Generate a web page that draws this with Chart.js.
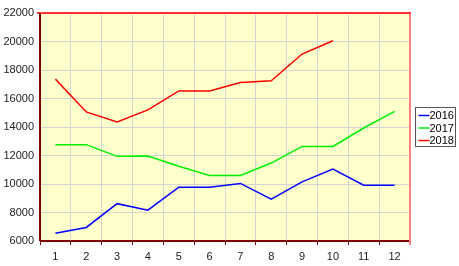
<!DOCTYPE html>
<html><head><meta charset="utf-8">
<script src="https://cdn.jsdelivr.net/npm/chart.js@4/dist/chart.umd.min.js"></script>
<style>html,body{margin:0;padding:0;background:#fff}#wrap{width:459px;height:266px;position:relative}</style>
</head><body><div id="wrap"><canvas id="c" width="459" height="266"></canvas></div>
<script>
const categories = ['1','2','3','4','5','6','7','8','9','10','11','12'];
const seriesNames = ['2016','2017','2018'];
const values2016 = [6540, 6950, 8620, 8160, 9780, 9780, 10040, 8930, 10150, 11050, 9920, 9920];
const values2017 = [12760, 12760, 11940, 11960, 11240, 10600, 10600, 11470, 12640, 12640, 13930, 15100];
const values2018 = [17360, 15060, 14350, 15200, 16530, 16530, 17120, 17240, 19120, 20050, null, null];
const yTicks = [6000, 8000, 10000, 12000, 14000, 16000, 18000, 20000, 22000];
const colors = ['#0000ff', '#00ee00', '#ff0000'];

const frame = {
  id: 'frame',
  beforeDraw(chart) {
    const {ctx, chartArea: a} = chart;
    ctx.save();
    ctx.fillStyle = '#ffffcc';
    ctx.fillRect(a.left, a.top, a.right - a.left, a.bottom - a.top);
    ctx.restore();
  },
  afterDraw(chart) {
    const {ctx, chartArea: a} = chart;
    ctx.save();
    ctx.lineWidth = 2;
    ctx.strokeStyle = '#ff8080';
    ctx.beginPath(); ctx.moveTo(a.right, a.top); ctx.lineTo(a.right, a.bottom + 4); ctx.stroke();
    ctx.strokeStyle = '#ff3030';
    ctx.beginPath(); ctx.moveTo(a.left - 3, a.top); ctx.lineTo(a.right + 1, a.top); ctx.stroke();
    ctx.strokeStyle = '#800000';
    ctx.beginPath(); ctx.moveTo(a.left, a.top); ctx.lineTo(a.left, a.bottom); ctx.stroke();
    ctx.beginPath(); ctx.moveTo(a.left, a.bottom); ctx.lineTo(a.right - 1, a.bottom); ctx.stroke();
    // legend
    const lx = 415.5, ly = 107.5, lw = 40, lh = 39;
    ctx.lineWidth = 1;
    ctx.strokeStyle = '#555';
    ctx.fillStyle = '#fff';
    ctx.fillRect(lx, ly, lw, lh);
    ctx.strokeRect(lx, ly, lw, lh);
    ctx.font = '11px "Liberation Sans", Arial, sans-serif';
    ctx.textBaseline = 'middle';
    seriesNames.forEach((n, i) => {
      const y = 115 + i * 12.5;
      ctx.strokeStyle = colors[i];
      ctx.lineWidth = 1.5;
      ctx.beginPath(); ctx.moveTo(lx + 3, y + 0.5); ctx.lineTo(lx + 14, y + 0.5); ctx.stroke();
      ctx.fillStyle = '#000';
      ctx.fillText(n, lx + 14, y + 1);
    });
    ctx.restore();
  }
};

const mk = (label, data, c) => ({label, data, borderColor: c, backgroundColor: c, borderWidth: 1.5, pointRadius: 0, tension: 0, spanGaps: false});

new Chart(document.getElementById('c'), {
  type: 'line',
  data: {
    labels: categories,
    datasets: [mk(seriesNames[0], values2016, colors[0]), mk(seriesNames[1], values2017, colors[1]), mk(seriesNames[2], values2018, colors[2])]
  },
  options: {
    responsive: false,
    animation: false,
    events: [],
    layout: {padding: {top: 13, right: 49, left: 0, bottom: 0}},
    plugins: {legend: {display: false}, tooltip: {enabled: false}},
    scales: {
      x: {
        offset: true,
        grid: {offset: true, color: '#d4d4d4', drawTicks: true, tickLength: 4, tickColor: '#800000'},
        border: {display: false},
        ticks: {color: '#222', font: {family: '"Liberation Sans", Arial, sans-serif', size: 11}, padding: 5, maxRotation: 0},
        afterFit(s) { s.height = 25; }
      },
      y: {
        min: 6000, max: 22000,
        afterBuildTicks(s) { s.ticks = yTicks.map(v => ({value: v})); },
        grid: {color: '#d4d4d4', drawTicks: false},
        border: {display: false},
        ticks: {color: '#222', font: {family: '"Liberation Sans", Arial, sans-serif', size: 11}, padding: 6, callback: v => String(v)},
        afterFit(s) { s.width = 40; }
      }
    }
  },
  plugins: [frame]
});
</script></body></html>
